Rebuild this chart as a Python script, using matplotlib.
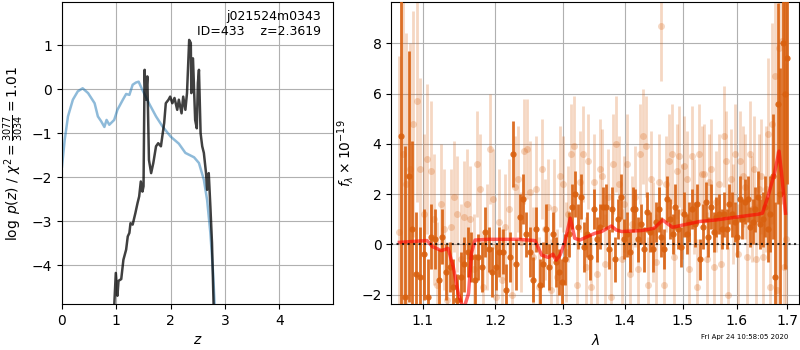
import numpy as np
import matplotlib
matplotlib.use('Agg')
import matplotlib.pyplot as plt
from matplotlib.ticker import NullLocator

# ---- left panel: log p(z) ----
z_prior = [0.0, 0.05, 0.11, 0.2, 0.29, 0.38, 0.48, 0.6, 0.66, 0.72, 0.78, 0.82,
           0.87, 0.96, 1.02, 1.12, 1.18, 1.24, 1.30, 1.36, 1.41, 1.48, 1.60,
           1.73, 1.85, 2.0, 2.15, 2.27, 2.43, 2.52, 2.61, 2.67, 2.73, 2.78, 2.81]
lnp_prior = [-1.76, -1.15, -0.62, -0.24, -0.05, 0.02, -0.09, -0.32, -0.62, -0.73,
             -0.86, -0.70, -0.81, -0.70, -0.47, -0.24, -0.11, -0.13, 0.10, 0.15,
             0.17, -0.02, -0.32, -0.62, -0.85, -1.08, -1.24, -1.45, -1.55, -1.68,
             -2.06, -2.52, -3.27, -4.18, -4.95]

z_fit = [0.96, 0.99, 1.02, 1.04, 1.09, 1.13, 1.18, 1.21, 1.24, 1.26, 1.30, 1.35,
         1.39, 1.42, 1.45, 1.48, 1.50, 1.52, 1.54, 1.57, 1.60, 1.64, 1.68, 1.73,
         1.77, 1.82, 1.88, 1.91, 1.96, 1.99, 2.03, 2.07, 2.12, 2.15, 2.20, 2.23,
         2.27, 2.30, 2.34, 2.37, 2.38, 2.41, 2.45, 2.48, 2.50, 2.52, 2.55, 2.58,
         2.61, 2.65, 2.67, 2.70, 2.73, 2.76, 2.79]
lnp_fit = [-4.95, -4.18, -4.70, -4.36, -4.32, -3.88, -3.65, -3.35, -3.27, -3.05,
           -3.08, -2.82, -2.59, -2.44, -2.10, -2.33, -2.21, 0.44, -0.24, 0.29,
           -1.61, -1.91, -1.68, -1.30, -1.23, -1.30, -0.77, -0.32, -0.24, -0.17,
           -0.32, -0.20, -0.47, -0.24, -0.55, -0.17, -0.47, -0.09, 1.12, 1.05,
           -0.09, 0.70, -0.70, -0.89, 0.14, 0.44, -1.00, -1.30, -1.45, -1.91,
           -2.29, -1.91, -2.67, -3.50, -4.95]

# ---- right panel: spectrum ----
flux_dark = [4.3, -2.1, 2.7, 0.6, -1.2, -1.3, -0.4, -2.1, 0.3, 0.2,
             -1.4, 0.3, -1.1, -0.9, -1.7, -2.2, -1.3, -0.8, -0.3, -0.5,
             -1.4, -0.5, -0.9, 0.5, -0.2, -1.1, -0.9, -0.3, -0.3, -1.8,
             -0.5, 3.6, -0.8, 1.1, 1.8, 0.4, -0.3, -1.4, 0.6, -1.6,
             -0.8, 0.6, -0.9, 0.4, -0.7, -1.1, -1.5, -0.6, 0.4, 1.5,
             2.0, 0.7, 1.9, -0.1, 0.4, -0.5, 1.4, 0.2, 0.7, 1.5,
             1.5, -0.2, 1.4, -0.6, 1.0, 1.9, 0.2, 0.4, -0.3, 1.4,
             1.4, 0.2, 0.8, -0.2, 1.3, 0.5, -0.2, 0.9, 1.4, 0.3,
             -0.2, 1.8, 1.0, 0.4, 1.5, 0.6, -0.1, 1.2, 0.4, 0.9,
             1.4, 0.8, 1.6, -0.6, 0.7, 1.7, 0.3, 1.5, 0.5, 1.1,
             1.2, 0.6, 1.2, 0.6, 1.6, 1.2, 0.9, 0.3, 1.8, 1.0,
             1.7, 1.8, 0.7, 0.9, 1.4, 1.9, 0.8, 1.0, 1.5, 0.6,
             1.2, 2.7, -1.3, 5.6, 2.0, 8.0, 6.0, 7.4]
err_dark = [8.0, 6.0, 5.0, 3.5, 2.5, 2.0, 1.8, 1.5, 1.3, 1.2,
            1.2, 1.1, 1.1, 1.0, 1.1, 1.0, 1.0, 1.1, 1.0, 1.0,
            1.0, 0.9, 1.0, 1.0, 0.9, 1.0, 0.9, 1.0, 0.9, 1.0,
            1.0, 1.3, 1.0, 0.9, 1.0, 0.9, 1.0, 0.9, 0.9, 1.0,
            0.9, 1.0, 0.9, 0.9, 1.0, 0.9, 0.9, 1.0, 0.9, 0.9,
            0.9, 0.9, 0.9, 1.0, 0.9, 0.9, 0.8, 0.9, 0.9, 0.8,
            0.9, 0.8, 0.9, 0.9, 0.8, 0.9, 0.8, 0.9, 0.8, 0.9,
            0.8, 0.9, 0.8, 0.9, 0.8, 0.8, 0.9, 0.8, 0.9, 0.8,
            0.8, 0.9, 0.8, 0.8, 0.9, 0.8, 0.8, 0.9, 0.8, 0.8,
            0.8, 0.9, 0.8, 0.8, 0.9, 0.8, 0.8, 0.9, 0.8, 0.8,
            0.8, 0.8, 0.9, 0.8, 0.8, 0.9, 0.8, 0.8, 0.9, 0.8,
            0.9, 0.9, 0.8, 0.9, 0.9, 1.0, 1.0, 1.1, 1.2, 1.3,
            1.5, 2.5, 3.0, 4.0, 5.0, 6.0, 7.0, 5.0]

flux_light = [0.5, 3.6, 2.4, 3.0, 4.8, 5.7, 3.0, 1.2, 3.4, 2.9,
              1.0, -1.6, 1.6, 0.6, -2.2, 0.7, 1.9, 1.2, -0.6, 1.1,
              1.6, 1.0, -1.0, 3.2, 2.2, -1.7, 0.3, 3.8, 1.8, -2.1,
              0.9, -1.4, 0.7, 1.4, -2.0, 2.3, 2.6, 0.1, 3.7, 3.8,
              2.1, -0.5, 2.2, -1.7, 3.0, 0.6, 1.5, -1.8, 1.4, -1.3,
              2.7, 2.4, -0.3, 1.2, 3.6, 3.9, -1.6, 2.5, 3.6, -0.9,
              3.3, -1.7, 2.5, -1.2, 3.0, 2.7, -0.8, 1.9, -2.1, 3.2,
              4.0, 2.4, -0.6, 1.6, 3.2, -1.2, 0.8, 1.9, -1.0, 3.6,
              4.3, 3.9, -1.6, 2.6, 0.5, -0.7, 2.5, 8.7, -1.6, 2.4,
              3.3, 3.6, -0.5, 2.9, 3.5, 1.3, 3.1, 2.6, -1.0, 3.5,
              1.5, -1.7, 3.6, 2.8, 2.8, -0.6, 2.5, 3.0, -0.9, 1.7,
              2.4, -0.8, 4.3, 3.3, -2.0, 2.6, 1.2, 3.6, -0.4, 3.3,
              2.7, 2.3, -0.5, 3.6, 1.4, 3.0, -0.6, 2.2, 2.7, -0.5,
              2.2, 4.4, -1.7, 4.8, 6.7, -1.8, 7.8, 8.1, -0.9, 0.2]
err_light = [7.0, 6.5, 6.0, 5.0, 4.5, 4.0, 3.6, 3.2, 3.0, 2.8,
             2.6, 2.5, 2.4, 2.4, 2.3, 2.3, 2.2, 2.3, 2.2, 2.2,
             2.2, 2.1, 2.2, 2.1, 2.2, 2.1, 2.1, 2.2, 2.0, 2.1,
             2.1, 2.0, 2.1, 2.0, 2.1, 2.0, 2.1, 2.0, 2.1, 2.0,
             2.0, 2.0, 2.1, 2.0, 2.0, 2.0, 1.9, 2.0, 2.0, 1.9,
             2.0, 1.9, 2.0, 1.9, 2.0, 2.0, 1.9, 2.0, 1.9, 2.0,
             1.9, 2.0, 1.9, 1.9, 2.0, 1.9, 2.0, 1.9, 1.9, 2.0,
             1.9, 1.9, 2.0, 1.9, 2.0, 1.9, 1.9, 2.0, 1.9, 2.0,
             1.9, 2.0, 1.9, 1.9, 2.0, 1.9, 1.9, 2.2, 1.9, 1.9,
             1.9, 2.0, 1.9, 1.9, 2.0, 1.9, 2.0, 1.9, 1.9, 2.0,
             1.9, 1.9, 2.0, 1.9, 2.0, 1.9, 1.9, 2.0, 1.9, 2.0,
             2.0, 1.9, 2.0, 2.0, 1.9, 2.0, 2.0, 2.0, 2.0, 2.0,
             2.0, 2.1, 2.0, 2.1, 2.1, 2.1, 2.2, 2.2, 2.3, 2.3,
             2.5, 3.0, 3.5, 4.0, 5.0, 5.5, 6.0, 6.5, 7.0, 7.0]

wave_model = [1.070, 1.106, 1.113, 1.125, 1.134, 1.141, 1.148, 1.155, 1.162,
              1.166, 1.171, 1.189, 1.233, 1.258, 1.268, 1.278, 1.285, 1.290,
              1.296, 1.303, 1.309, 1.312, 1.319, 1.327, 1.351, 1.362, 1.378,
              1.386, 1.395, 1.429, 1.450, 1.465, 1.474, 1.482, 1.531, 1.561,
              1.598, 1.642, 1.650, 1.661, 1.674, 1.683, 1.688, 1.696]
flux_model = [0.08, 0.15, -0.09, -0.25, -0.16, -0.89, -1.96, -2.6, -1.96,
              -0.36, 0.17, 0.20, 0.20, 0.15, -0.43, -0.52, -0.39, -0.63,
              -0.43, 0.04, 0.71, 1.04, 0.24, 0.17, 0.44, 0.51, 0.73,
              0.57, 0.51, 0.55, 0.64, 0.97, 0.81, 0.68, 0.91, 0.97,
              1.08, 1.20, 1.24, 1.91, 2.84, 3.71, 2.84, 1.24]

wave_ticks = [1.1, 1.2, 1.3, 1.4, 1.5, 1.6, 1.7]

# sampling grids of the two spectra (regular in wavelength)
wave_dark = np.linspace(1.072, 1.700, len(flux_dark))
wave_light = np.linspace(1.070, 1.697, len(flux_light))

orange = '#d9600f'

fig = plt.figure(figsize=(8, 3.5), dpi=100)
ax1 = fig.add_axes([0.0775, 0.131, 0.339, 0.863])
ax2 = fig.add_axes([0.489, 0.131, 0.510, 0.863])

# p(z)
ax1.plot(z_prior, lnp_prior, color='tab:blue', alpha=0.5, lw=1.8)
ax1.plot(z_fit, lnp_fit, color='k', alpha=0.75, lw=1.8)
ax1.set_xlim(0, 4.99)
ax1.set_ylim(-4.89, 1.98)
ax1.set_xticks([0, 1, 2, 3, 4])
ax1.set_yticks([-4, -3, -2, -1, 0, 1])
ax1.set_xlabel(r'$z$')
ax1.set_ylabel(r'$\log\;p(z)$ / $\chi^2=\frac{3077}{3034}=1.01$')
ax1.grid(True)
ax1.text(0.955, 0.975, 'j021524m0343\nID=433    z=2.3619',
         transform=ax1.transAxes, ha='right', va='top', fontsize=9)

# spectrum
ax2.errorbar(wave_light, flux_light, yerr=err_light, fmt='o', color=orange,
             alpha=0.25, ms=5, mec='none', elinewidth=2, capsize=0, zorder=2)
ax2.errorbar(wave_dark, flux_dark, yerr=err_dark, fmt='o', color=orange,
             alpha=0.9, ms=4.5, mec='none', elinewidth=2, capsize=0, zorder=3)
ax2.plot(wave_model, flux_model, color='r', alpha=0.6, lw=2.5, zorder=4)
ax2.axhline(0, color='k', ls=':', lw=1.5, alpha=0.8, zorder=5)

ax2.set_xscale('log')
ax2.set_xlim(1.0596, 1.724)
ax2.set_ylim(-2.38, 9.64)
ax2.set_xticks(wave_ticks)
ax2.set_xticklabels([f'{w:.1f}' for w in wave_ticks])
ax2.xaxis.set_minor_locator(NullLocator())
ax2.set_yticks([-2, 0, 2, 4, 6, 8])
ax2.set_xlabel(r'$\lambda$')
ax2.set_ylabel(r'$f_\lambda\times10^{-19}$')
ax2.grid(True)

fig.text(0.985, 0.028, 'Fri Apr 24 10:58:05 2020', ha='right', va='bottom',
         fontsize=5)

fig.savefig('out.png', dpi=100)
